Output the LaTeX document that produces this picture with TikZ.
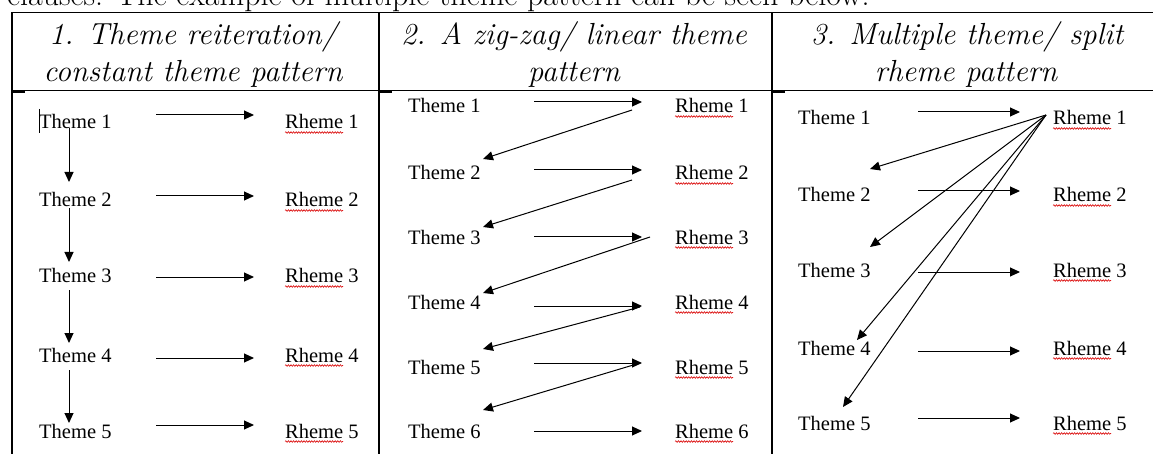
\documentclass[tikz,border=0pt]{standalone}
\usepackage{fontspec}
\newfontfamily\tnr{Liberation Serif}
\usetikzlibrary{arrows.meta,decorations.pathmorphing}
\begin{document}
\begin{tikzpicture}[x=1pt,y=-1pt,
  txt/.style={font=\tnr\fontsize{20.5}{24}\selectfont, inner sep=0pt, anchor=base west},
  hdr/.style={font=\itshape\fontsize{30.5}{36}\selectfont, inner sep=0pt, anchor=base},
  toptext/.style={font=\fontsize{32}{38}\selectfont, inner sep=0pt, anchor=base west},
  arr/.style={-{Triangle[length=10pt,width=9pt]}, line width=1pt},
  rule/.style={line width=1.6pt},
  tick/.style={line width=2.6pt},
  squig/.style={red!85!black, line width=0.6pt, decorate,
    decoration={snake, amplitude=0.8pt, segment length=2.6pt}}]
\useasboundingbox (0,0) rectangle (1153,454);

% clipped sentence above the table
\node[toptext] (intro) at (7,6) {clauses. The example of multiple theme pattern can be seen below.};

% table rules
\draw[rule] (12,12.5) -- (1153,12.5);
\draw[rule] (12,90.5) -- (1153,90.5);
\draw[rule] (12,12.5) -- (12,454);
\draw[rule] (379,12.5) -- (379,454);
\draw[rule] (772,12.5) -- (772,454);
\draw[tick] (12,91.5) -- (25,91.5);
\draw[tick] (379,91.5) -- (392,91.5);
\draw[tick] (772,91.5) -- (785,91.5);

% headers
\node[hdr] (h1a) at (193,45) {1. Theme reiteration/};
\node[hdr] (h1b) at (193,82) {constant theme pattern};
\node[hdr] (h2a) at (574,45) {2. A zig-zag/ linear theme};
\node[hdr] (h2b) at (574,82) {pattern};
\node[hdr] (h3a) at (967,45) {3. Multiple theme/ split};
\node[hdr] (h3b) at (966,82) {rheme pattern};

% ---------- column 1 ----------
\foreach \i/\y/\ay in {1/129/115,2/207/196,3/283/277,4/362/358,5/438/425}{
  \node[txt] (a\i) at (39,\y) {Theme \i};
  \node[txt] (ar\i) at (285,\y) {Rheme \i};
  \draw[squig] ([yshift=-3.5pt]ar\i.base west) -- ++(58,0);
  \coordinate (as\i) at (156,\ay);
  \coordinate (ae\i) at (254,\ay);
  \draw[arr] (as\i) -- (ae\i);
}
\draw[line width=1.4pt] (39.5,109) -- (39.5,133);
\foreach \i/\s/\e in {1/128/182,2/208/262,3/290/343,4/370/423}{
  \coordinate (vs\i) at (69,\s);
  \coordinate (ve\i) at (69,\e);
  \draw[arr] (vs\i) -- (ve\i);
}

% ---------- column 2 ----------
\foreach \i/\y/\ay in {1/113/102,2/180/170,3/244/237,4/309/306,5/374/363,6/438/431}{
  \node[txt] (b\i) at (408,\y) {Theme \i};
  \node[txt] (br\i) at (675,\y) {Rheme \i};
  \draw[squig] ([yshift=-3.5pt]br\i.base west) -- ++(58,0);
  \coordinate (bs\i) at (534,\ay);
  \coordinate (be\i) at (642,\ay);
  \draw[arr] (bs\i) -- (be\i);
}
\foreach \i/\sx/\sy/\ey in {1/632/110/159,2/632/180/227,3/650/237/293,4/640/307/349,5/640/363/410}{
  \coordinate (zs\i) at (\sx,\sy);
  \coordinate (ze\i) at (483,\ey);
  \draw[arr] (zs\i) -- (ze\i);
}

% ---------- column 3 ----------
\foreach \i/\y/\ay in {1/125/112,2/202/191,3/277/272,4/355/351,5/430/418}{
  \node[txt] (c\i) at (798,\y) {Theme \i};
  \node[txt] (cr\i) at (1053,\y) {Rheme \i};
  \draw[squig] ([yshift=-3.5pt]cr\i.base west) -- ++(58,0);
  \coordinate (cs\i) at (918,\ay);
  \coordinate (ce\i) at (1020,\ay);
  \draw[arr] (cs\i) -- (ce\i);
}
\coordinate (fan) at (1046,115);
\foreach \i/\ex/\ey in {2/870/169,3/870/247,4/857/340,5/843/407}{
  \coordinate (fe\i) at (\ex,\ey);
  \draw[arr] (fan) -- (fe\i);
}
\end{tikzpicture}
\end{document}
